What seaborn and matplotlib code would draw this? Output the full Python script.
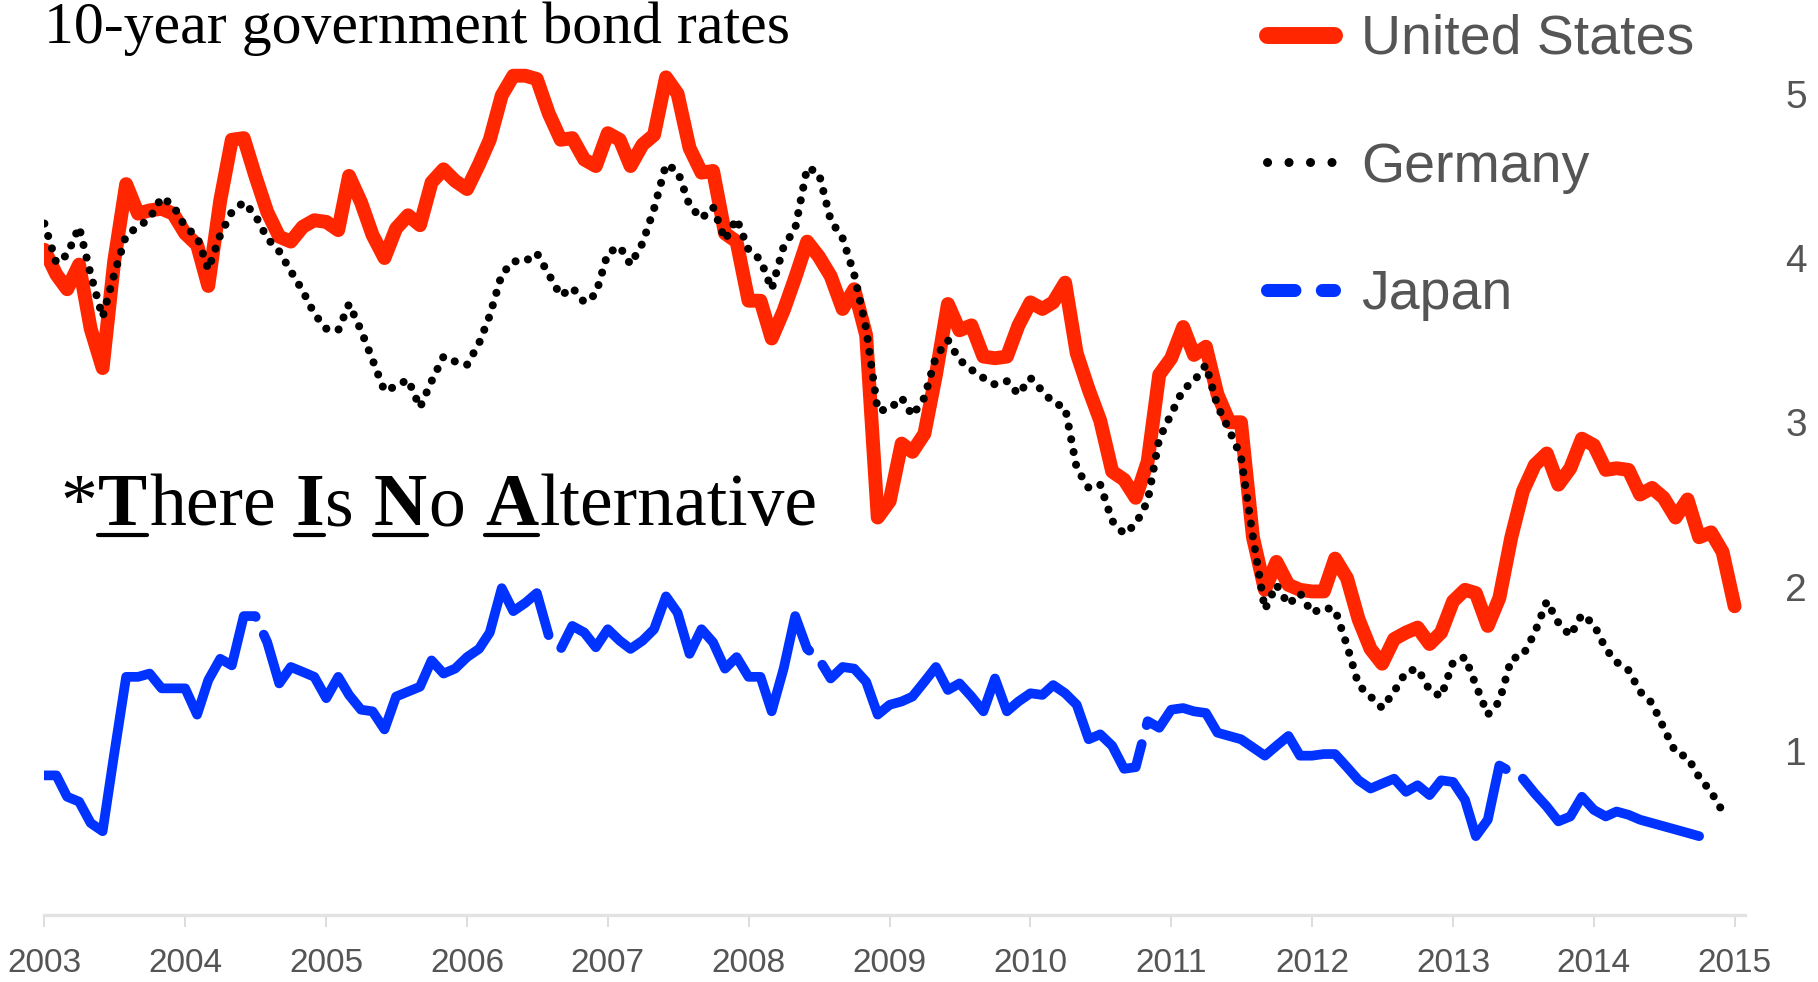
import numpy as np
import pandas as pd
import seaborn as sns
import matplotlib.pyplot as plt
import matplotlib.dates as mdates
from matplotlib.lines import Line2D

# 10-year government bond yields, monthly, starting Jan 2003
us = [4.05, 3.90, 3.81, 3.96, 3.57, 3.33, 3.98, 4.45, 4.27, 4.29, 4.30, 4.27,
      4.15, 4.08, 3.83, 4.35, 4.72, 4.73, 4.50, 4.28, 4.13, 4.10, 4.19, 4.23,
      4.22, 4.17, 4.50, 4.34, 4.14, 4.00, 4.18, 4.26, 4.20, 4.46, 4.54, 4.47,
      4.42, 4.57, 4.72, 4.99, 5.11, 5.11, 5.09, 4.88, 4.72, 4.73, 4.60, 4.56,
      4.76, 4.72, 4.56, 4.69, 4.75, 5.10, 5.00, 4.67, 4.52, 4.53, 4.15, 4.10,
      3.74, 3.74, 3.51, 3.68, 3.88, 4.10, 4.01, 3.89, 3.69, 3.81, 3.53, 2.42,
      2.52, 2.87, 2.82, 2.93, 3.29, 3.72, 3.56, 3.59, 3.40, 3.39, 3.40, 3.59,
      3.73, 3.69, 3.73, 3.85, 3.42, 3.20, 3.01, 2.70, 2.65, 2.54, 2.76, 3.29,
      3.39, 3.58, 3.41, 3.46, 3.17, 3.00, 3.00, 2.30, 1.98, 2.15, 2.01, 1.98,
      1.97, 1.97, 2.17, 2.05, 1.80, 1.62, 1.53, 1.68, 1.72, 1.75, 1.65, 1.72,
      1.91, 1.98, 1.96, 1.76, 1.93, 2.30, 2.58, 2.74, 2.81, 2.62, 2.72, 2.90,
      2.86, 2.71, 2.72, 2.71, 2.56, 2.60, 2.54, 2.42, 2.53, 2.30, 2.33, 2.21,
      1.88]

germany = [4.21, 3.97, 4.02, 4.19, 3.90, 3.64, 3.90, 4.14, 4.19, 4.24, 4.37, 4.32,
           4.19, 4.13, 3.93, 4.14, 4.28, 4.34, 4.26, 4.12, 4.04, 3.92, 3.80, 3.66,
           3.57, 3.56, 3.72, 3.56, 3.38, 3.19, 3.22, 3.26, 3.09, 3.25, 3.40, 3.37,
           3.35, 3.48, 3.65, 3.90, 3.98, 3.98, 4.03, 3.90, 3.77, 3.82, 3.73, 3.78,
           4.03, 4.07, 3.96, 4.09, 4.30, 4.57, 4.53, 4.32, 4.24, 4.31, 4.11, 4.24,
           4.05, 3.99, 3.81, 4.07, 4.18, 4.55, 4.52, 4.23, 4.12, 3.90, 3.57, 3.07,
           3.08, 3.15, 3.04, 3.15, 3.40, 3.50, 3.38, 3.32, 3.27, 3.23, 3.25, 3.17,
           3.27, 3.19, 3.12, 3.09, 2.72, 2.60, 2.62, 2.40, 2.32, 2.38, 2.52, 2.90,
           3.05, 3.20, 3.25, 3.35, 3.10, 2.95, 2.79, 2.30, 1.86, 2.01, 1.89, 1.96,
           1.84, 1.87, 1.86, 1.64, 1.40, 1.33, 1.26, 1.36, 1.48, 1.50, 1.37, 1.33,
           1.54, 1.57, 1.40, 1.22, 1.30, 1.56, 1.58, 1.72, 1.91, 1.78, 1.70, 1.83,
           1.77, 1.62, 1.54, 1.49, 1.36, 1.29, 1.14, 0.99, 0.96, 0.84, 0.75, 0.63]

japan = [0.85, 0.85, 0.72, 0.69, 0.56, 0.51, 0.98, 1.45, 1.45, 1.47, 1.38, 1.38,
         1.38, 1.22, 1.43, 1.56, 1.52, 1.82, 1.82, 1.66, 1.41, 1.51, 1.48, 1.45,
         1.32, 1.45, 1.34, 1.25, 1.24, 1.13, 1.33, 1.36, 1.39, 1.55, 1.47, 1.50,
         1.57, 1.62, 1.72, 1.99, 1.85, 1.90, 1.96, 1.70, 1.62, 1.76, 1.72, 1.63,
         1.74, 1.67, 1.62, 1.67, 1.74, 1.94, 1.84, 1.59, 1.74, 1.66, 1.50, 1.57,
         1.45, 1.45, 1.24, 1.50, 1.82, 1.62, 1.56, 1.44, 1.51, 1.50, 1.42, 1.22,
         1.28, 1.30, 1.33, 1.42, 1.51, 1.37, 1.41, 1.33, 1.24, 1.44, 1.24, 1.30,
         1.35, 1.34, 1.40, 1.35, 1.28, 1.07, 1.10, 1.03, 0.89, 0.90, 1.18, 1.14,
         1.25, 1.26, 1.24, 1.23, 1.11, 1.09, 1.07, 1.02, 0.97, 1.03, 1.09, 0.97,
         0.97, 0.98, 0.98, 0.90, 0.82, 0.77, 0.80, 0.83, 0.75, 0.79, 0.73, 0.82,
         0.81, 0.70, 0.48, 0.58, 0.91, 0.87, 0.83, 0.74, 0.66, 0.57, 0.60, 0.72,
         0.64, 0.60, 0.63, 0.61, 0.58, 0.56, 0.54, 0.52, 0.50, 0.48]

labels = ['United States', 'Germany', 'Japan']
years = list(range(2003, 2016))
yticks = [1, 2, 3, 4, 5]

RED = '#ff2600'
BLUE = '#0033ff'
GREY = '#555555'

dates_us = pd.date_range('2003-01-01', periods=len(us), freq='MS')
dates_de = pd.date_range('2003-01-01', periods=len(germany), freq='MS')
dates_jp = pd.date_range('2003-01-01', periods=len(japan), freq='MS')

sns.set_style('white')
plt.rcParams['font.family'] = ['Liberation Sans', 'DejaVu Sans']

W, H = 1818, 982
fig = plt.figure(figsize=(W / 100, H / 100), dpi=100)
ax = fig.add_axes([44 / W, 67 / H, 1701 / W, 915 / H])

sns.lineplot(x=dates_us, y=us, ax=ax, color=RED, lw=10,
             solid_capstyle='round', solid_joinstyle='round')
sns.lineplot(x=dates_jp, y=japan, ax=ax, color=BLUE, lw=7,
             linestyle=(6, (55, 2.0)), dash_capstyle='round', dash_joinstyle='round')
sns.lineplot(x=dates_de, y=germany, ax=ax, color='black', lw=5.8,
             linestyle=(0, (0.01, 1.6)), dash_capstyle='round')
for line in ax.lines:
    line.set_dash_capstyle('round')
    line.set_solid_capstyle('round')

ax.set_xlim(pd.Timestamp('2002-12-31'), pd.Timestamp('2015-01-28'))
ax.set_ylim(0, 5.571)
ax.set_xlabel('')
ax.set_ylabel('')

ax.set_xticks([pd.Timestamp(f'{y}-01-01') for y in years])
ax.xaxis.set_major_formatter(mdates.DateFormatter('%Y'))
ax.yaxis.tick_right()
ax.set_yticks(yticks)
ax.set_yticklabels([str(v) for v in yticks])

for s in ['top', 'left', 'right']:
    ax.spines[s].set_visible(False)
ax.spines['bottom'].set_color('#e2e2e2')
ax.spines['bottom'].set_linewidth(2.4)

ax.tick_params(axis='x', bottom=True, length=8.6, width=1.4, color='#dddddd',
               pad=15, labelsize=24, labelcolor=GREY)
ax.tick_params(axis='y', left=False, right=False, length=0, pad=29,
               labelsize=28, labelcolor=GREY)

# legend
handles = [
    Line2D([], [], color=RED, lw=12.2, solid_capstyle='round'),
    Line2D([], [], color='black', lw=6.5, linestyle=(0, (0.01, 2.37)), dash_capstyle='round'),
    Line2D([], [], color=BLUE, lw=9.4, linestyle=(0, (2.1, 2.1)), dash_capstyle='round'),
]
fig.legend(handles, labels, loc='upper left', bbox_to_anchor=(1267 / W, 1 - 14 / H),
           frameon=False, fontsize=40, handlelength=1.2, handletextpad=0.5,
           labelspacing=1.36, borderpad=0, borderaxespad=0, labelcolor=GREY)

# title at the top edge
fig.text(44 / W, 1 - 2 / H, '10-year government bond rates', family='Liberation Serif',
         fontsize=43, va='top', ha='left', color='black')

# *There Is No Alternative, with bold underlined initials
serif = 'Liberation Serif'
fs = 53
pieces = [('*', False, 0), ('T', True, 0), ('here', False, 0), ('I', True, 1),
          ('s', False, 0), ('N', True, 1), ('o', False, 0), ('A', True, 1),
          ('lternative', False, 0)]
space_pt = 0.25 * fs
first = fig.text(60 / W, 1 - 525 / H, pieces[0][0], family=serif, fontsize=fs,
                 va='baseline', ha='left', color='black')
texts = [first]
prev = first
for txt, bold, sp in pieces[1:]:
    t = ax.annotate(txt, xy=(1, 0), xycoords=prev, xytext=(sp * space_pt + 1, 0),
                    textcoords='offset points', va='bottom', ha='left',
                    family=serif, fontsize=fs, color='black',
                    fontweight='bold' if bold else 'normal', annotation_clip=False)
    texts.append(t)
    prev = t

fig.canvas.draw()
renderer = fig.canvas.get_renderer()
inv = fig.transFigure.inverted()
for t, (txt, bold, sp) in zip(texts, pieces):
    if not bold:
        continue
    bb = t.get_window_extent(renderer)
    _, _, lp_d = renderer.get_text_width_height_descent('lp', t.get_fontproperties(), ismath=False)
    base = bb.y0 + lp_d
    yline = base - 10
    (x0, y0), (x1, _) = inv.transform([(bb.x0, yline), (bb.x1, yline)])
    fig.add_artist(Line2D([x0, x1], [y0, y0], color='black', lw=3, transform=fig.transFigure))

fig.savefig('out.png', dpi=100)
